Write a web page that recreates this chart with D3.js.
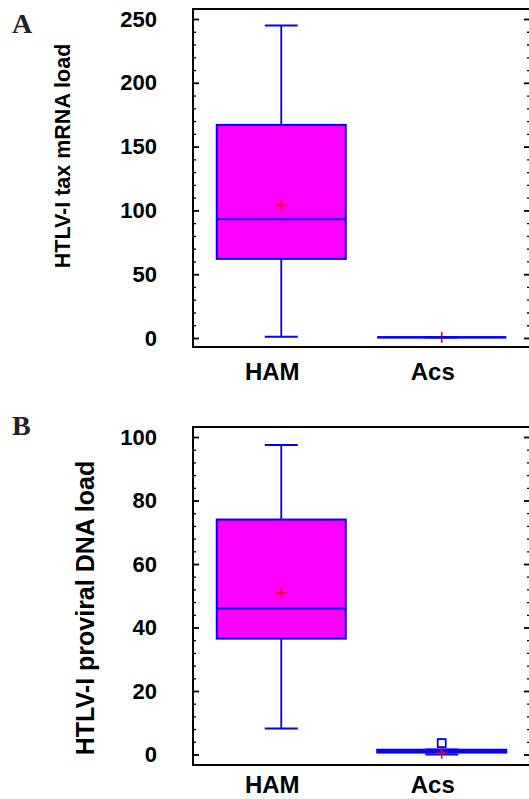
<!DOCTYPE html>
<html>
<head>
<meta charset="utf-8">
<script src="https://cdn.jsdelivr.net/npm/d3@7"></script>
<style>
  html, body { margin: 0; padding: 0; background: #fff; }
  svg { display: block; }
</style>
</head>
<body>
<script>
// ---------- data ----------
const categories = ["HAM", "Acs"];

// Panel A: HTLV-I tax mRNA load
const panelA_ticks = [0, 50, 100, 150, 200, 250];
const panelA_min    = [1, 0.5];
const panelA_q1     = [62, 0.5];
const panelA_median = [93, 0.5];
const panelA_q3     = [167, 0.5];
const panelA_max    = [245, 0.5];
const panelA_mean   = [104, 0.5];
const panelA_outliers = [[], []];

// Panel B: HTLV-I proviral DNA load
const panelB_ticks = [0, 20, 40, 60, 80, 100];
const panelB_min    = [8.2, 0.0];
const panelB_q1     = [36.5, 0.6];
const panelB_median = [46, 1.0];
const panelB_q3     = [74, 1.5];
const panelB_max    = [97.5, 1.6];
const panelB_mean   = [50.8, 0.4];
const panelB_outliers = [[], [3.6]];

const panels = [
  { letter: "A", title: "HTLV-I tax mRNA load", domain: [0, 250], ticks: panelA_ticks, minorStep: 10,
    min: panelA_min, q1: panelA_q1, med: panelA_median, q3: panelA_q3, max: panelA_max, mean: panelA_mean, out: panelA_outliers,
    frameTop: 9, frameBottom: 347, yTop: 19, yBottom: 338, titleY: 156, titleX: 70, titleSize: 21.5, letterY: 33, catY: 380 },
  { letter: "B", title: "HTLV-I proviral DNA load", domain: [0, 100], ticks: panelB_ticks, minorStep: 4,
    min: panelB_min, q1: panelB_q1, med: panelB_median, q3: panelB_q3, max: panelB_max, mean: panelB_mean, out: panelB_outliers,
    frameTop: 427, frameBottom: 765, yTop: 437, yBottom: 754.5, titleY: 608, titleX: 94, titleSize: 25, letterY: 435, catY: 793 }
];

// ---------- layout ----------
const W = 529, H = 799;
const frameLeft = 193, frameRight = 530;

const svg = d3.select("body").append("svg").attr("width", W).attr("height", H);

const x = d3.scalePoint().domain(categories).range([frameLeft, frameRight]).padding(0.55);
const boxW = 129, capW = 33;

panels.forEach(p => {
  const g = svg.append("g");
  const y = d3.scaleLinear().domain(p.domain).range([p.yBottom, p.yTop]);
  const minorVals = d3.range(p.domain[0], p.domain[1] + 1e-9, p.minorStep).filter(v => !p.ticks.includes(v));

  // left major axis (inward ticks)
  const left = g.append("g").attr("transform", `translate(${frameLeft},0)`)
    .call(d3.axisLeft(y).tickValues(p.ticks).tickSizeInner(-6).tickSizeOuter(0).tickPadding(36));
  left.select(".domain").remove();
  left.selectAll(".tick line").attr("stroke", "#000").attr("stroke-width", 1.8);
  left.selectAll(".tick text").attr("font-family", "Arial, 'Liberation Sans', sans-serif")
    .attr("font-weight", "bold").attr("font-size", 22).attr("fill", "#000");

  const leftMinor = g.append("g").attr("transform", `translate(${frameLeft},0)`)
    .call(d3.axisLeft(y).tickValues(minorVals).tickSizeInner(-3).tickSizeOuter(0).tickFormat(""));
  leftMinor.select(".domain").remove();
  leftMinor.selectAll(".tick line").attr("stroke", "#000").attr("stroke-width", 1.3);

  // right axis (inward ticks)
  const right = g.append("g").attr("transform", `translate(${frameRight},0)`)
    .call(d3.axisRight(y).tickValues(p.ticks).tickSizeInner(-6).tickSizeOuter(0).tickFormat(""));
  right.select(".domain").remove();
  right.selectAll(".tick line").attr("stroke", "#000").attr("stroke-width", 1.8);
  const rightMinor = g.append("g").attr("transform", `translate(${frameRight},0)`)
    .call(d3.axisRight(y).tickValues(minorVals).tickSizeInner(-3).tickSizeOuter(0).tickFormat(""));
  rightMinor.select(".domain").remove();
  rightMinor.selectAll(".tick line").attr("stroke", "#000").attr("stroke-width", 1.3);

  // frame
  g.append("rect").attr("x", frameLeft).attr("y", p.frameTop)
    .attr("width", frameRight - frameLeft).attr("height", p.frameBottom - p.frameTop)
    .attr("fill", "none").attr("stroke", "#000").attr("stroke-width", 2);

  // boxes
  categories.forEach((c, i) => {
    const cx = x(c);
    const bg = g.append("g");
    // whiskers
    bg.append("line").attr("x1", cx).attr("x2", cx).attr("y1", y(p.max[i])).attr("y2", y(p.q3[i]))
      .attr("stroke", "#0000ff").attr("stroke-width", 1.8);
    bg.append("line").attr("x1", cx).attr("x2", cx).attr("y1", y(p.q1[i])).attr("y2", y(p.min[i]))
      .attr("stroke", "#0000ff").attr("stroke-width", 1.8);
    // caps
    [p.max[i], p.min[i]].forEach(v => {
      bg.append("line").attr("x1", cx - capW / 2).attr("x2", cx + capW / 2).attr("y1", y(v)).attr("y2", y(v))
        .attr("stroke", "#0000ff").attr("stroke-width", 2);
    });
    // box
    bg.append("rect").attr("x", cx - boxW / 2).attr("width", boxW)
      .attr("y", y(p.q3[i])).attr("height", Math.max(0, y(p.q1[i]) - y(p.q3[i])))
      .attr("fill", "#ff00ff").attr("stroke", "#0000ff").attr("stroke-width", 2);
    // median
    bg.append("line").attr("x1", cx - boxW / 2).attr("x2", cx + boxW / 2)
      .attr("y1", y(p.med[i])).attr("y2", y(p.med[i]))
      .attr("stroke", "#0000ff").attr("stroke-width", 2);
    // outliers
    p.out[i].forEach(v => {
      bg.append("rect").attr("x", cx - 4).attr("y", y(v) - 4).attr("width", 8).attr("height", 8)
        .attr("fill", "#fff").attr("stroke", "#0000ff").attr("stroke-width", 1.8);
    });
    // mean marker
    const my = y(p.mean[i]);
    bg.append("line").attr("x1", cx - 5.5).attr("x2", cx + 5.5).attr("y1", my).attr("y2", my)
      .attr("stroke", "#ff0000").attr("stroke-width", 1.7);
    bg.append("line").attr("x1", cx).attr("x2", cx).attr("y1", my - 5.5).attr("y2", my + 5.5)
      .attr("stroke", "#ff0000").attr("stroke-width", 1.7);
    // redraw flat box line over the horizontal mean bar when box has zero height
    if (p.q1[i] === p.q3[i]) {
      bg.append("line").attr("x1", cx - boxW / 2).attr("x2", cx + boxW / 2)
        .attr("y1", y(p.q1[i])).attr("y2", y(p.q1[i]))
        .attr("stroke", "#0000ff").attr("stroke-width", 2.2);
    }

    // category label
    g.append("text").attr("x", cx - 9).attr("y", p.catY).attr("text-anchor", "middle")
      .attr("font-family", "Arial, 'Liberation Sans', sans-serif").attr("font-weight", "bold")
      .attr("font-size", 24).attr("fill", "#000").text(c);
  });

  // axis title
  g.append("text").attr("transform", `translate(${p.titleX},${p.titleY}) rotate(-90)`)
    .attr("text-anchor", "middle")
    .attr("font-family", "Arial, 'Liberation Sans', sans-serif").attr("font-weight", "bold")
    .attr("font-size", p.titleSize).attr("fill", "#000").text(p.title);

  // panel letter
  g.append("text").attr("x", 12).attr("y", p.letterY)
    .attr("font-family", "'Liberation Serif', 'Times New Roman', serif").attr("font-weight", "bold")
    .attr("font-size", 28).attr("fill", "#222").text(p.letter);
});
</script>
</body>
</html>
